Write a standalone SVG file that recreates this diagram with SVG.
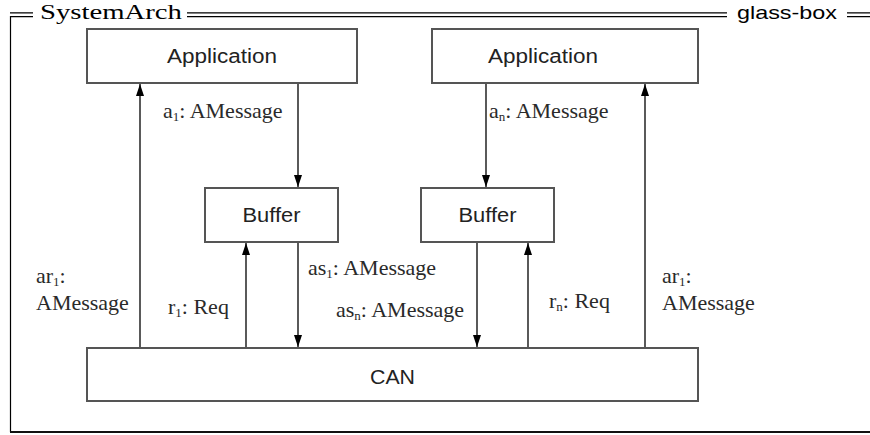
<svg xmlns="http://www.w3.org/2000/svg" width="870" height="435" viewBox="0 0 870 435">
<defs>
<marker id="arr" viewBox="0 0 12 8" refX="12" refY="4" markerWidth="12" markerHeight="8" markerUnits="userSpaceOnUse" orient="auto">
<path d="M0,0 L12,4 L0,8 Z" fill="#000"/>
</marker>
</defs>
<style>
.box{fill:#fff;stroke:#555;stroke-width:2}
.bt{font-family:"Liberation Sans",Arial,sans-serif;font-size:20px;fill:#222;text-anchor:middle}
.lb{font-family:"Liberation Serif","Times New Roman",serif;font-size:22px;fill:#2a2a2a}
.sub{font-size:13px}
.cn{stroke:#000;stroke-width:1.3;fill:none;marker-end:url(#arr)}
.fr{stroke:#000;stroke-width:1.2;fill:none}
</style>
<rect width="870" height="435" fill="#fff"/>
<g id="frame">
<path class="fr" d="M10,12.8 H33 M10,16.6 H33 M187,12.8 H727 M187,16.6 H727 M847,12.8 H870 M847,16.6 H870 M10.5,16 V432"/>
<path d="M10,432 H870" stroke="#111" stroke-width="2"/>
<text x="40" y="19" font-family="'Liberation Serif','DejaVu Serif',serif" font-size="20" textLength="142" lengthAdjust="spacingAndGlyphs" fill="#000">SystemArch</text>
<text x="737" y="19" font-family="'Liberation Sans','DejaVu Sans',sans-serif" font-size="19" textLength="100" lengthAdjust="spacingAndGlyphs" fill="#000">glass-box</text>
</g>
<g id="connectors">
<line class="cn" x1="140" y1="348" x2="140" y2="84"/>
<line class="cn" x1="645" y1="348" x2="645" y2="84"/>
<line class="cn" x1="298" y1="84" x2="298" y2="187"/>
<line class="cn" x1="486" y1="84" x2="486" y2="187"/>
<line class="cn" x1="246" y1="348" x2="246" y2="243"/>
<line class="cn" x1="528" y1="348" x2="528" y2="243"/>
<line class="cn" x1="298" y1="243" x2="298" y2="347"/>
<line class="cn" x1="477" y1="243" x2="477" y2="347"/>
</g>
<g id="app1">
<rect class="box" x="87" y="29" width="270" height="54"/>
<text class="bt" x="222" y="63" textLength="110" lengthAdjust="spacingAndGlyphs">Application</text>
</g>
<g id="app2">
<rect class="box" x="432" y="29" width="266" height="54"/>
<text class="bt" x="543" y="63" textLength="110" lengthAdjust="spacingAndGlyphs">Application</text>
</g>
<g id="buffer1">
<rect class="box" x="205" y="188" width="133" height="54"/>
<text class="bt" x="271.5" y="222" textLength="58" lengthAdjust="spacingAndGlyphs">Buffer</text>
</g>
<g id="buffer2">
<rect class="box" x="421" y="188" width="133" height="54"/>
<text class="bt" x="487.5" y="222" textLength="58" lengthAdjust="spacingAndGlyphs">Buffer</text>
</g>
<g id="can">
<rect class="box" x="87" y="348" width="611" height="53"/>
<text class="bt" x="392.5" y="384" textLength="45" lengthAdjust="spacingAndGlyphs">CAN</text>
</g>
<g id="labels">
<text class="lb" x="163" y="118">a<tspan class="sub" dy="3">1</tspan><tspan dy="-3">: AMessage</tspan></text>
<text class="lb" x="489" y="118">a<tspan class="sub" dy="3">n</tspan><tspan dy="-3">: AMessage</tspan></text>
<text class="lb" x="36" y="283">ar<tspan class="sub" dy="3">1</tspan><tspan dy="-3">:</tspan></text>
<text class="lb" x="36" y="310">AMessage</text>
<text class="lb" x="168" y="314">r<tspan class="sub" dy="3">1</tspan><tspan dy="-3">: Req</tspan></text>
<text class="lb" x="308" y="275">as<tspan class="sub" dy="3">1</tspan><tspan dy="-3">: AMessage</tspan></text>
<text class="lb" x="336" y="317">as<tspan class="sub" dy="3">n</tspan><tspan dy="-3">: AMessage</tspan></text>
<text class="lb" x="549" y="308">r<tspan class="sub" dy="3">n</tspan><tspan dy="-3">: Req</tspan></text>
<text class="lb" x="662" y="283">ar<tspan class="sub" dy="3">1</tspan><tspan dy="-3">:</tspan></text>
<text class="lb" x="662" y="310">AMessage</text>
</g>
</svg>
